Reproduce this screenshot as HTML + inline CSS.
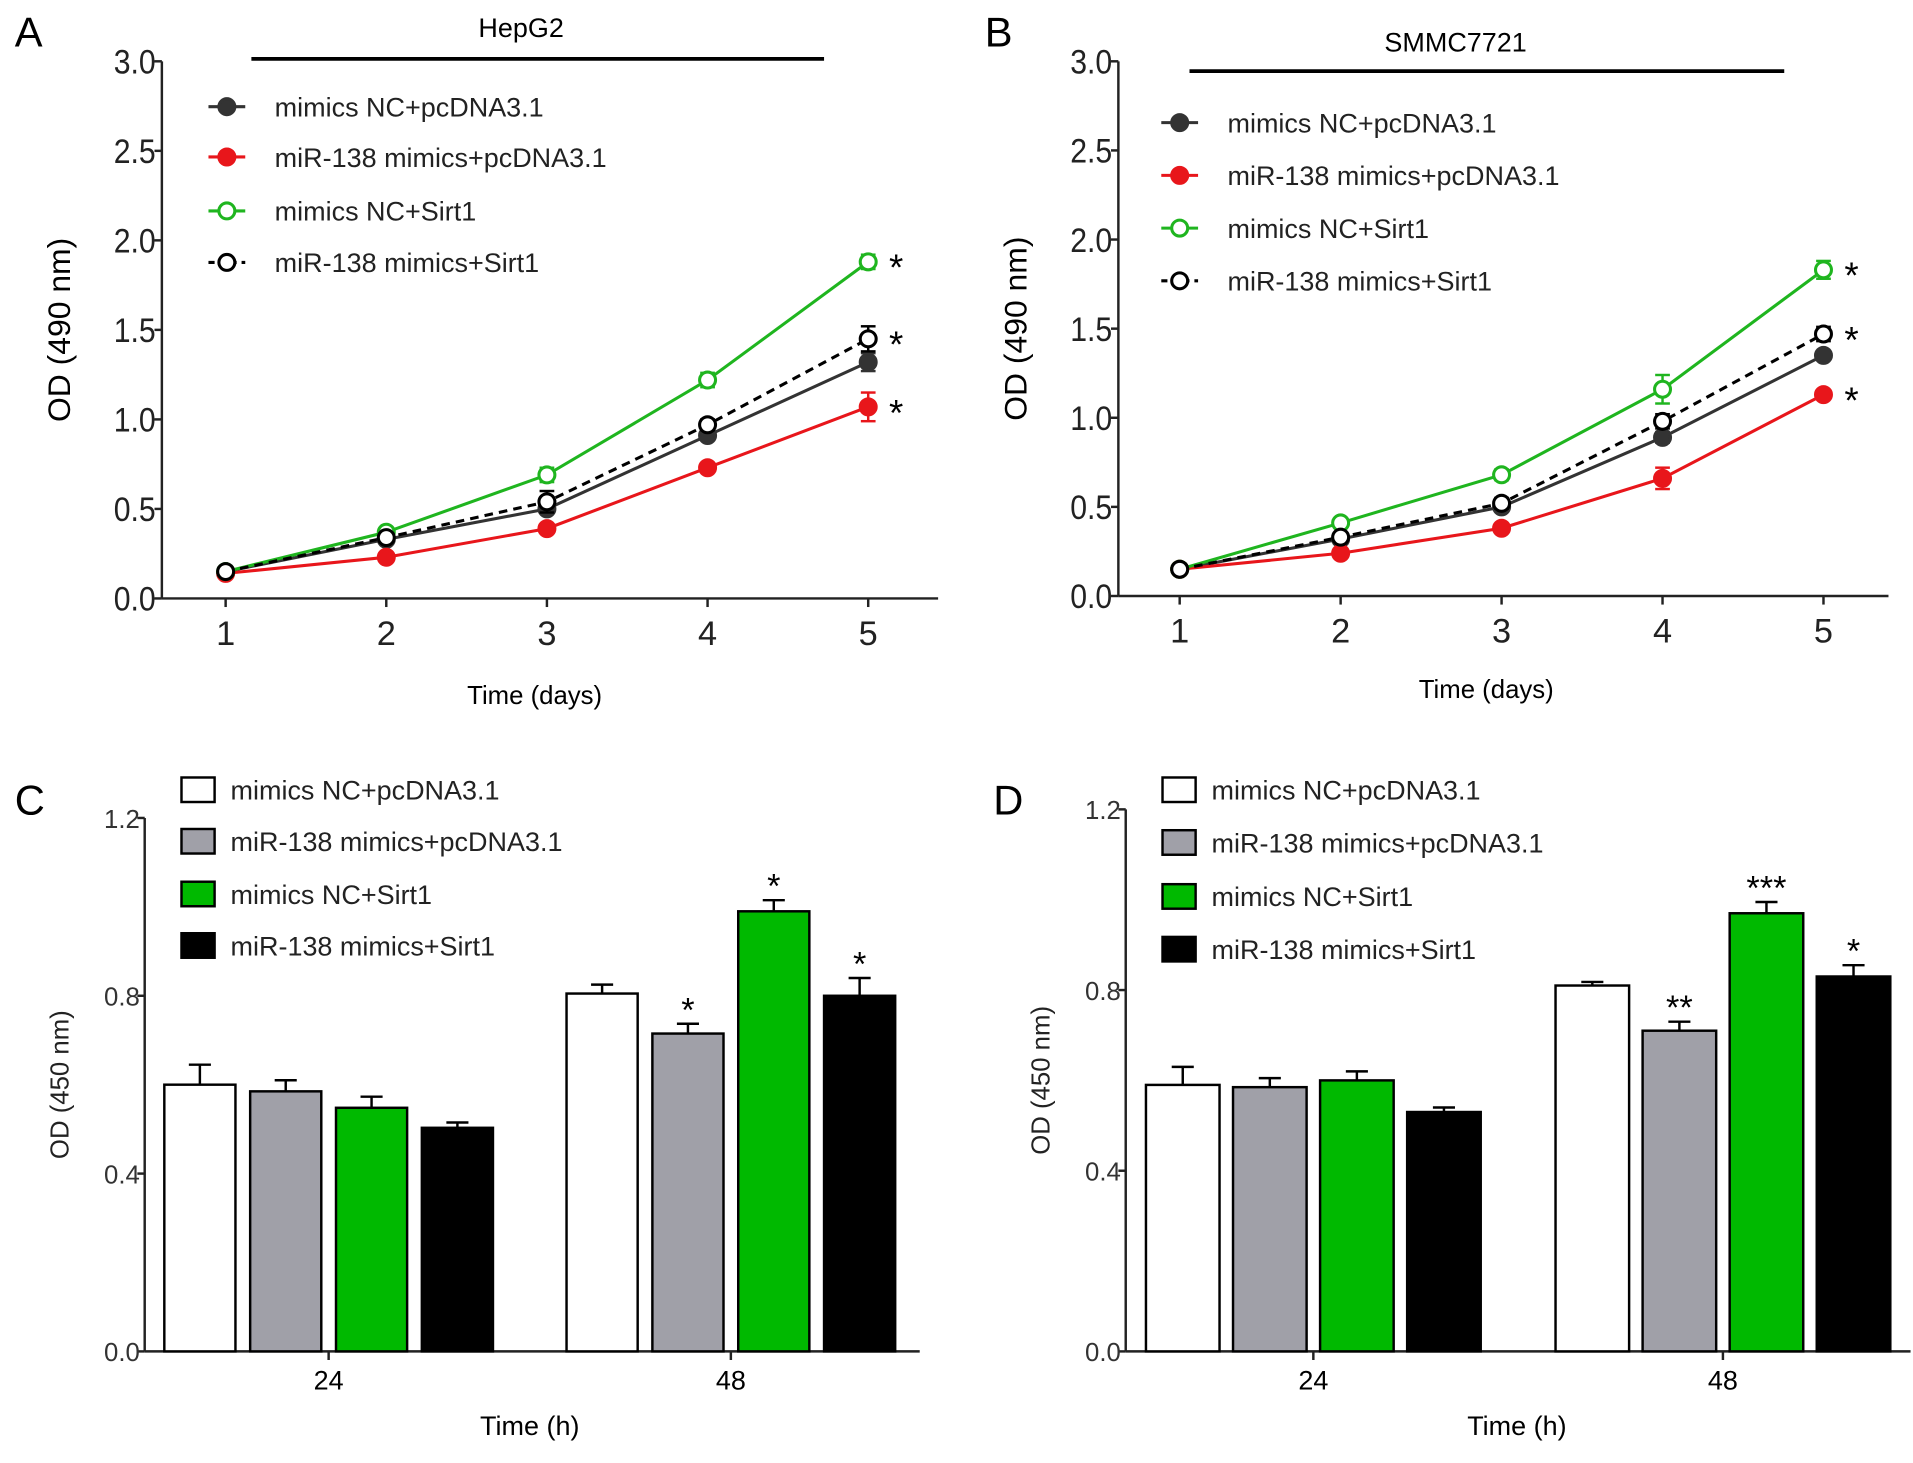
<!DOCTYPE html>
<html><head><meta charset="utf-8"><style>
html,body{margin:0;padding:0;background:#fff;}
svg{display:block;font-family:"Liberation Sans",Arial,sans-serif;}
</style></head><body>
<svg id="fig" width="1913" height="1463" viewBox="0 0 1560 1193" preserveAspectRatio="none" xmlns="http://www.w3.org/2000/svg">
<rect width="1560" height="1193" fill="#fff"/>
</svg>
<script>
const days = [1,2,3,4,5];
const seriesNames = ["mimics NC+pcDNA3.1","miR-138 mimics+pcDNA3.1","mimics NC+Sirt1","miR-138 mimics+Sirt1"];
const lineTicks = [0,0.5,1.0,1.5,2.0,2.5,3.0];
const barTicks = [0,0.4,0.8,1.2];
const aBlack = [0.15,0.33,0.50,0.91,1.32];
const aRed = [0.14,0.23,0.39,0.73,1.07];
const aGreen = [0.15,0.37,0.69,1.22,1.88];
const aDash = [0.15,0.34,0.54,0.97,1.45];
const aErr = [[0.01,0.02,0.02,0.02,0.05],[0.01,0.02,0.02,0.02,0.08],[0.01,0.02,0.04,0.04,0.04],[0.01,0.02,0.06,0.03,0.07]];
const bBlack = [0.15,0.32,0.50,0.89,1.35];
const bRed = [0.15,0.24,0.38,0.66,1.13];
const bGreen = [0.15,0.41,0.68,1.16,1.83];
const bDash = [0.15,0.33,0.52,0.98,1.47];
const bErr = [[0.01,0.02,0.02,0.03,0.02],[0.01,0.02,0.02,0.06,0.02],[0.01,0.02,0.03,0.08,0.05],[0.01,0.02,0.03,0.04,0.04]];
const groups = ["24","48"];
const c24 = [0.60,0.585,0.548,0.503];
const c48 = [0.805,0.715,0.99,0.80];
const cErr24 = [0.045,0.025,0.025,0.012];
const cErr48 = [0.02,0.022,0.025,0.04];
const cStars = ["","*","*","*"];
const d24 = [0.59,0.585,0.60,0.53];
const d48 = [0.81,0.71,0.97,0.83];
const dErr24 = [0.04,0.02,0.02,0.01];
const dErr48 = [0.008,0.02,0.025,0.025];
const dStars = ["","**","***","*"];

const NS="http://www.w3.org/2000/svg";
const svg=document.getElementById('fig');
function mk(tag,attrs,parent,text){const e=document.createElementNS(NS,tag);for(const k in attrs)e.setAttribute(k,attrs[k]);if(text!==undefined)e.textContent=text;(parent||svg).appendChild(e);return e;}
function grp(name){const g=mk('g',{});return g;}

function linePanel(p){
  const g=grp(p.name);
  const sy=v=>p.y0+(p.y1-p.y0)*v/3;
  const sx=d=>p.x1+(p.x5-p.x1)*(d-1)/4;
  let t=mk('text',{x:p.lx,y:p.ly,'font-size':34},g,p.letter);
  
  t=mk('text',{x:p.tx,y:p.ty,'font-size':22,'text-anchor':'middle'},g,p.title);
  
  let l=mk('line',{x1:p.bar[0],x2:p.bar[1],y1:p.bar[2],y2:p.bar[2],stroke:'#000','stroke-width':3},g);
  
  mk('line',{x1:p.ax,x2:p.ax,y1:sy(3),y2:p.y0,stroke:'#222','stroke-width':2},g);
  mk('line',{x1:p.ax,x2:p.axEnd,y1:p.y0,y2:p.y0,stroke:'#222','stroke-width':2},g);
  lineTicks.forEach(v=>{mk('line',{x1:p.ax-6,x2:p.ax,y1:sy(v),y2:sy(v),stroke:'#222','stroke-width':2},g);
    const tt=mk('text',{x:p.ax-5,y:sy(v)+10,'font-size':28,'text-anchor':'end',fill:'#222',transform:`translate(${(p.ax-5)*0.12},0) scale(0.88,1)`},g,v.toFixed(1));
    });
  days.forEach(d=>{mk('line',{x1:sx(d),x2:sx(d),y1:p.y0,y2:p.y0+7,stroke:'#222','stroke-width':2},g);
    const tt=mk('text',{x:sx(d),y:p.y0+38,'font-size':28,'text-anchor':'middle',fill:'#222'},g,String(d));
    });
  t=mk('text',{x:0,y:0,'font-size':26,'text-anchor':'middle',transform:`translate(${p.ax-75},${sy(1.5)}) rotate(-90)`},g,'OD (490 nm)');
  
  t=mk('text',{x:p.xtx,y:p.xty,'font-size':21,'text-anchor':'middle'},g,'Time (days)');
  
  const styles=[{c:'#333',fill:'#333',dash:''},{c:'#e8161b',fill:'#e8161b',dash:''},{c:'#1fb51f',fill:'#fff',dash:''},{c:'#000',fill:'#fff',dash:'7,5'}];
  p.series.forEach((s,i)=>{
    const st=styles[i];
    const pts=s.map((v,k)=>sx(days[k])+','+sy(v)).join(' ');
    const pl=mk('polyline',{points:pts,fill:'none',stroke:st.c,'stroke-width':2.5,'stroke-dasharray':st.dash},g);
    
  });
  p.series.forEach((s,i)=>{
    const st=styles[i];
    s.forEach((v,k)=>{
      const x=sx(days[k]),e=p.err[i][k];
      mk('line',{x1:x,x2:x,y1:sy(v+e),y2:sy(v-e),stroke:st.c,'stroke-width':2},g);
      mk('line',{x1:x-6,x2:x+6,y1:sy(v+e),y2:sy(v+e),stroke:st.c,'stroke-width':2},g);
      mk('line',{x1:x-6,x2:x+6,y1:sy(v-e),y2:sy(v-e),stroke:st.c,'stroke-width':2},g);
      const c=mk('circle',{cx:x,cy:sy(v),r:6.5,fill:st.fill,stroke:st.c,'stroke-width':2.5},g);
      
    });
  });
  p.starIdx.forEach(i=>{
    const s=mk('text',{x:sx(5)+17,y:sy(p.series[i][4])+15,'font-size':30},g,'*');
    });
  seriesNames.forEach((n,i)=>{
    const st=styles[i],y=p.legY[i];
    const lg=mk('g',{},g);
    mk('line',{x1:p.legX-15,x2:p.legX+15,y1:y,y2:y,stroke:st.c,'stroke-width':2.5,'stroke-dasharray':i==3?'5,4':''},lg);
    mk('circle',{cx:p.legX,cy:y,r:6.5,fill:st.fill,stroke:st.c,'stroke-width':2.5},lg);
    mk('text',{x:p.legX+39,y:y+8,'font-size':22,fill:'#222'},lg,n);
  });
}
linePanel({name:'panel-a-hepg2',letter:'A',lx:12,ly:38,title:'HepG2',tx:425,ty:30,bar:[205,672,48],
  ax:132,axEnd:765,y0:488,y1:50,x1:184,x5:708,xtx:436,xty:574,
  series:[aBlack,aRed,aGreen,aDash],err:aErr,starIdx:[2,3,1],legX:185,legY:[87,128,172,214]});
linePanel({name:'panel-b-smmc7721',letter:'B',lx:803,ly:38,title:'SMMC7721',tx:1187,ty:42,bar:[970,1455,58],
  ax:912,axEnd:1540,y0:486,y1:50,x1:962,x5:1487,xtx:1212,xty:569,
  series:[bBlack,bRed,bGreen,bDash],err:bErr,starIdx:[2,3,1],legX:962,legY:[100,143,186,229]});

function barPanel(p){
  const g=grp(p.name);
  const sy=v=>p.y0+(p.y1-p.y0)*v/1.2;
  let t=mk('text',{x:p.lx,y:p.ly,'font-size':34},g,p.letter);
  
  mk('line',{x1:p.ax,x2:p.ax,y1:sy(1.2),y2:p.y0,stroke:'#222','stroke-width':2},g);
  mk('line',{x1:p.ax,x2:p.axEnd,y1:p.y0,y2:p.y0,stroke:'#222','stroke-width':2},g);
  barTicks.forEach(v=>{mk('line',{x1:p.ax-6,x2:p.ax,y1:sy(v),y2:sy(v),stroke:'#222','stroke-width':2},g);
    const tt=mk('text',{x:p.ax-4,y:sy(v)+8,'font-size':21,'text-anchor':'end',fill:'#333'},g,v.toFixed(1));
    });
  const fills=['#fff','#a0a0a8','#00b900','#000'];
  [p.v24,p.v48].forEach((vals,gi)=>{
    const cx=p.gx[gi];
    mk('line',{x1:cx,x2:cx,y1:p.y0,y2:p.y0+7,stroke:'#222','stroke-width':2},g);
    const tt=mk('text',{x:cx,y:p.y0+31,'font-size':22,'text-anchor':'middle'},g,groups[gi]);
    
    const errs=gi?p.e48:p.e24;
    vals.forEach((v,i)=>{
      const x=cx-2*p.step+i*p.step+(p.step-p.bw)/2;
      const xm=x+p.bw/2, e=errs[i];
      mk('line',{x1:xm,x2:xm,y1:sy(v),y2:sy(v+e),stroke:'#000','stroke-width':2},g);
      mk('line',{x1:xm-9,x2:xm+9,y1:sy(v+e),y2:sy(v+e),stroke:'#000','stroke-width':2},g);
      const r=mk('rect',{x:x,y:sy(v),width:p.bw,height:p.y0-sy(v),fill:fills[i],stroke:'#000','stroke-width':2},g);
      
      if(gi==1&&p.stars[i]){const s=mk('text',{x:xm,y:sy(v+e)-2,'font-size':28,'text-anchor':'middle'},g,p.stars[i]);
        }
    });
  });
  t=mk('text',{x:0,y:0,'font-size':21,'text-anchor':'middle',fill:'#222',transform:`translate(${p.ax-62},${sy(0.6)}) rotate(-90)`},g,'OD (450 nm)');
  
  t=mk('text',{x:p.xtx,y:1170,'font-size':22,'text-anchor':'middle'},g,'Time (h)');
  
  seriesNames.forEach((n,i)=>{
    const y=p.legY[i];
    const lg=mk('g',{},g);
    mk('rect',{x:p.legX,y:y-10,width:27,height:20,fill:fills[i],stroke:'#000','stroke-width':2},lg);
    mk('text',{x:p.legX+40,y:y+8,'font-size':22,fill:'#222'},lg,n);
  });
}
barPanel({name:'panel-c',letter:'C',lx:12,ly:664,ax:118,axEnd:750,y0:1102,y1:667,gx:[268,596],step:70,bw:58,
  v24:c24,v48:c48,e24:cErr24,e48:cErr48,stars:cStars,xtx:432,legX:148,legY:[644,686,729,771]});
barPanel({name:'panel-d',letter:'D',lx:810,ly:664,ax:918,axEnd:1558,y0:1102,y1:660,gx:[1071,1405],step:71,bw:60,
  v24:d24,v48:d48,e24:dErr24,e48:dErr48,stars:dStars,xtx:1237,legX:948,legY:[644,687,731,774]});
</script>
</body></html>
